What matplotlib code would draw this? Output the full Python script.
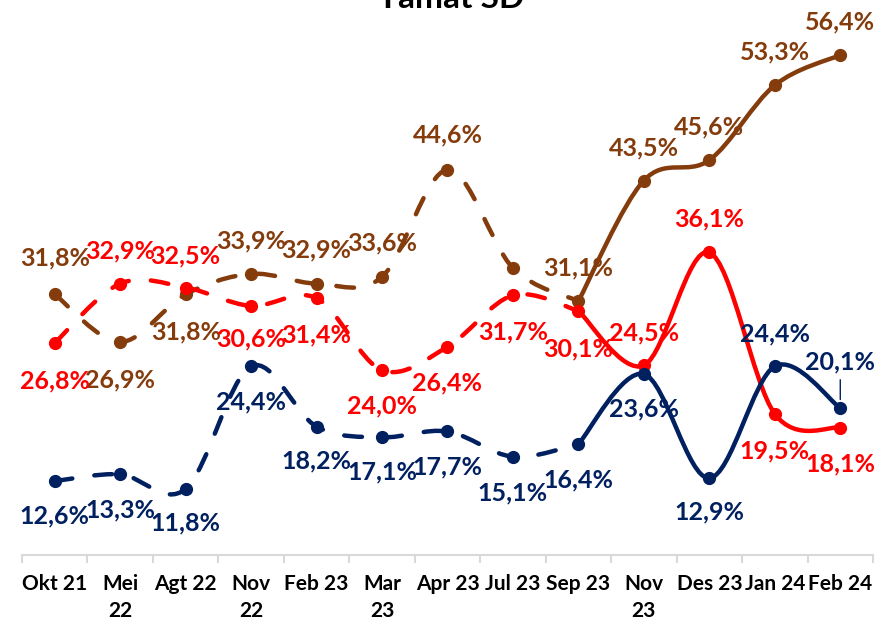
import numpy as np
import matplotlib
matplotlib.use("Agg")
import matplotlib.pyplot as plt
from matplotlib.path import Path
from matplotlib.patches import PathPatch

plt.rcParams['font.family'] = ['Lato', 'DejaVu Sans']

bulan = ['Okt 21', 'Mei\n22', 'Agt 22', 'Nov\n22', 'Feb 23', 'Mar\n23', 'Apr 23',
         'Jul 23', 'Sep 23', 'Nov\n23', 'Des 23', 'Jan 24', 'Feb 24']
coklat = [31.8, 26.9, 31.8, 33.9, 32.9, 33.6, 44.6, 34.5, 31.1, 43.5, 45.6, 53.3, 56.4]
merah = [26.8, 32.9, 32.5, 30.6, 31.4, 24.0, 26.4, 31.7, 30.1, 24.5, 36.1, 19.5, 18.1]
biru = [12.6, 13.3, 11.8, 24.4, 18.2, 17.1, 17.7, 15.1, 16.4, 23.6, 12.9, 24.4, 20.1]

# label offsets (pixels, up = +), None = no label
off_coklat = [36, -38, -38, 33, 34, 34, 35, None, 33, 33, 33, 33, 33]
off_merah = [-38, 33, 32, -33, -37, -36, -36, -37, -38, 32, 34, -37, -36]
off_biru = [-35, -36, -34, -36, -34, -35, -35, -36, -36, -35, -34, 32, 46]

C_COKLAT = '#843C0C'
C_MERAH = '#FF0000'
C_BIRU = '#002060'

BATAS = 8  # Sep 23: dashed before, solid after


def smooth_path(xs, ys):
    pts = np.column_stack([xs, ys]).astype(float)
    n = len(pts)
    verts = [pts[0]]
    codes = [Path.MOVETO]
    for i in range(n - 1):
        p0 = pts[i - 1] if i > 0 else pts[i]
        p1 = pts[i]
        p2 = pts[i + 1]
        p3 = pts[i + 2] if i + 2 < n else pts[i + 1]
        c1 = p1 + (p2 - p0) / 6.0
        c2 = p2 - (p3 - p1) / 6.0
        verts += [c1, c2, p2]
        codes += [Path.CURVE4] * 3
    return Path(verts, codes)


fig = plt.figure(figsize=(8.93, 6.25), dpi=100)
ax = fig.add_axes([22 / 893, 70 / 625, 851 / 893, 535 / 625])
x = np.arange(len(bulan))

for data, warna, offs in [(coklat, C_COKLAT, off_coklat),
                          (merah, C_MERAH, off_merah),
                          (biru, C_BIRU, off_biru)]:
    p1 = smooth_path(x[:BATAS + 1], data[:BATAS + 1])
    ax.add_patch(PathPatch(p1, fill=False, edgecolor=warna, lw=3.2,
                           linestyle=(0, (4, 5)), capstyle='round'))
    p2 = smooth_path(x[BATAS:], data[BATAS:])
    ax.add_patch(PathPatch(p2, fill=False, edgecolor=warna, lw=3.2,
                           capstyle='round'))
    ax.plot(x, data, 'o', color=warna, ms=8.5, zorder=4)
    for i, v in enumerate(data):
        if offs[i] is None:
            continue
        lbl = f'{v:.1f}%'.replace('.', ',')
        ax.annotate(lbl, (x[i], v), xytext=(0, offs[i] * 0.72),
                    textcoords='offset points', ha='center', va='center',
                    fontsize=18, fontweight='bold', color=warna)
        if warna == C_BIRU and i == len(data) - 1:
            ax.annotate('', (x[i], v + 0.6), xytext=(x[i], v + 3.2),
                        arrowprops=dict(arrowstyle='-', color=warna, lw=1))

ax.set_xlim(-0.5, 12.5)
ax.set_ylim(5, 60)
ax.set_yticks([])
for s in ['top', 'left', 'right']:
    ax.spines[s].set_visible(False)
ax.spines['bottom'].set_color('#D9D9D9')
ax.spines['bottom'].set_linewidth(1.5)
ax.set_xticks(x)
ax.set_xticklabels(bulan, fontsize=15, fontweight='bold', linespacing=1.4)
ax.tick_params(axis='x', which='major', length=0, pad=14)
ax.set_xticks(np.arange(-0.5, 13, 1), minor=True)
ax.tick_params(axis='x', which='minor', length=6, color='#D9D9D9', width=1.5)
for t in ax.get_xticklabels():
    t.set_verticalalignment('top')

fig.text(0.505, 1 - 8 / 625, 'Tamat SD', ha='center', va='baseline',
         fontsize=24, fontweight='bold', color='black')

fig.savefig('out.png', dpi=100)
